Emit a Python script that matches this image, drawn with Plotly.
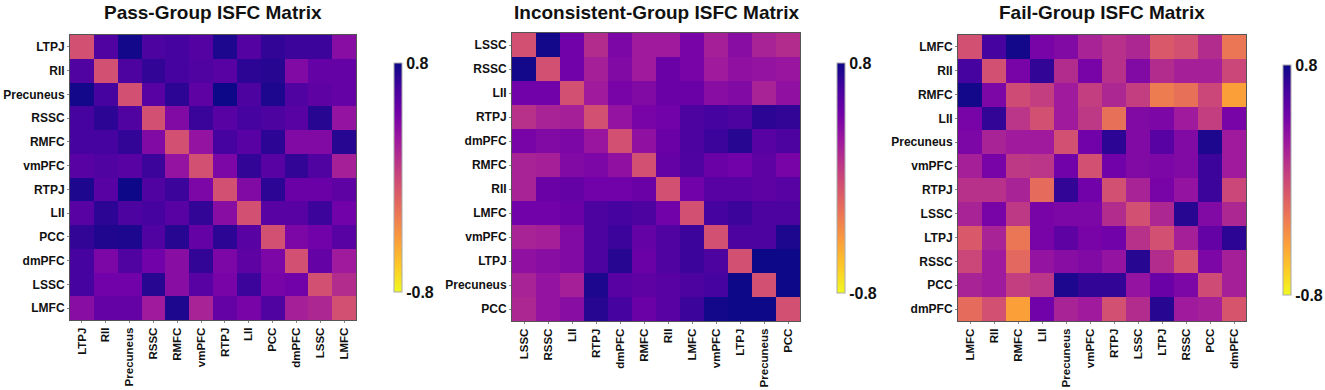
import plotly.graph_objects as go

# ---------------- data ----------------
pass_labels = ["LTPJ", "RII", "Precuneus", "RSSC", "RMFC", "vmPFC",
               "RTPJ", "LII", "PCC", "dmPFC", "LSSC", "LMFC"]
pass_values = [
    [-0.05, 0.58, 0.78, 0.60, 0.62, 0.56, 0.75, 0.56, 0.68, 0.65, 0.65, 0.35],
    [0.58, -0.05, 0.60, 0.68, 0.62, 0.58, 0.55, 0.70, 0.72, 0.38, 0.50, 0.50],
    [0.78, 0.62, -0.05, 0.55, 0.70, 0.52, 0.80, 0.60, 0.75, 0.58, 0.52, 0.50],
    [0.62, 0.70, 0.58, -0.05, 0.38, 0.66, 0.55, 0.62, 0.60, 0.55, 0.72, 0.30],
    [0.62, 0.62, 0.68, 0.38, -0.05, 0.30, 0.62, 0.55, 0.70, 0.38, 0.38, 0.72],
    [0.55, 0.58, 0.55, 0.65, 0.30, -0.05, 0.40, 0.68, 0.55, 0.68, 0.58, 0.22],
    [0.75, 0.55, 0.80, 0.58, 0.65, 0.40, -0.05, 0.38, 0.70, 0.48, 0.48, 0.52],
    [0.55, 0.70, 0.60, 0.62, 0.55, 0.68, 0.35, -0.05, 0.55, 0.55, 0.65, 0.45],
    [0.68, 0.74, 0.75, 0.58, 0.72, 0.50, 0.70, 0.55, -0.05, 0.40, 0.45, 0.55],
    [0.62, 0.40, 0.58, 0.45, 0.35, 0.68, 0.40, 0.52, 0.40, -0.05, 0.50, 0.25],
    [0.62, 0.45, 0.45, 0.72, 0.35, 0.55, 0.42, 0.65, 0.42, 0.45, -0.05, 0.15],
    [0.35, 0.50, 0.50, 0.25, 0.75, 0.20, 0.50, 0.42, 0.58, 0.22, 0.18, -0.05],
]

incons_labels = ["LSSC", "RSSC", "LII", "RTPJ", "dmPFC", "RMFC",
                 "RII", "LMFC", "vmPFC", "LTPJ", "Precuneus", "PCC"]
incons_values = [
    [-0.05, 0.78, 0.45, 0.15, 0.40, 0.25, 0.25, 0.42, 0.22, 0.35, 0.20, 0.15],
    [0.78, -0.05, 0.45, 0.22, 0.38, 0.25, 0.48, 0.42, 0.25, 0.32, 0.30, 0.28],
    [0.45, 0.45, -0.05, 0.25, 0.42, 0.38, 0.48, 0.48, 0.35, 0.38, 0.20, 0.32],
    [0.12, 0.20, 0.22, -0.05, 0.30, 0.42, 0.45, 0.60, 0.62, 0.60, 0.70, 0.68],
    [0.42, 0.38, 0.40, 0.28, -0.05, 0.32, 0.48, 0.60, 0.65, 0.72, 0.55, 0.60],
    [0.20, 0.22, 0.38, 0.40, 0.32, -0.05, 0.50, 0.58, 0.48, 0.45, 0.52, 0.42],
    [0.20, 0.48, 0.50, 0.45, 0.45, 0.48, -0.05, 0.45, 0.55, 0.55, 0.52, 0.55],
    [0.45, 0.45, 0.48, 0.60, 0.62, 0.60, 0.45, -0.05, 0.62, 0.65, 0.60, 0.60],
    [0.20, 0.22, 0.38, 0.60, 0.65, 0.50, 0.58, 0.65, -0.05, 0.60, 0.60, 0.75],
    [0.32, 0.35, 0.38, 0.60, 0.72, 0.48, 0.58, 0.65, 0.60, -0.05, 0.80, 0.80],
    [0.20, 0.30, 0.22, 0.75, 0.55, 0.52, 0.55, 0.60, 0.62, 0.80, -0.05, 0.80],
    [0.18, 0.30, 0.35, 0.72, 0.62, 0.48, 0.55, 0.65, 0.78, 0.80, 0.80, -0.05],
]

fail_labels = ["LMFC", "RII", "RMFC", "LII", "Precuneus", "vmPFC",
               "RTPJ", "LSSC", "LTPJ", "RSSC", "PCC", "dmPFC"]
fail_values = [
    [-0.05, 0.62, 0.78, 0.42, 0.38, 0.20, 0.12, 0.18, -0.10, -0.05, 0.15, -0.25],
    [0.62, -0.05, 0.42, 0.68, 0.15, 0.42, 0.12, 0.38, 0.15, 0.22, 0.22, 0.00],
    [0.78, 0.40, -0.02, 0.05, 0.25, 0.05, 0.18, 0.05, -0.28, -0.22, 0.00, -0.45],
    [0.42, 0.68, 0.10, -0.05, 0.25, 0.08, -0.22, 0.38, 0.40, 0.25, 0.05, 0.42],
    [0.40, 0.20, 0.25, 0.25, -0.05, 0.45, 0.70, 0.38, 0.55, 0.38, 0.75, 0.25],
    [0.22, 0.42, 0.08, 0.10, 0.45, -0.05, 0.45, 0.38, 0.40, 0.38, 0.65, 0.25],
    [0.12, 0.12, 0.20, -0.20, 0.68, 0.45, -0.05, 0.20, 0.42, 0.30, 0.65, 0.00],
    [0.20, 0.42, 0.08, 0.42, 0.40, 0.40, 0.15, -0.05, 0.18, 0.72, 0.38, 0.18],
    [-0.10, 0.20, -0.25, 0.42, 0.52, 0.42, 0.45, 0.12, -0.05, 0.22, 0.50, 0.70],
    [0.00, 0.25, -0.18, 0.30, 0.35, 0.38, 0.30, 0.72, 0.15, -0.08, 0.40, 0.22],
    [0.20, 0.25, 0.05, 0.10, 0.75, 0.68, 0.68, 0.30, 0.48, 0.40, -0.02, 0.22],
    [-0.20, -0.05, -0.45, 0.45, 0.20, 0.25, -0.05, 0.15, 0.72, 0.25, 0.22, -0.08],
]

titles = ["Pass-Group ISFC Matrix", "Inconsistent-Group ISFC Matrix", "Fail-Group ISFC Matrix"]
cbar_ticks = [-0.8, 0.8]
cbar_ticktext = ["-0.8", "0.8"]

# ---------------- layout geometry (pixels) ----------------
W, H = 1325, 390
panels = [
    dict(x0=70, x1=356, y0=35, y1=320, cbx=394, cby0=63, cby1=292),
    dict(x0=512, x1=800, y0=33, y1=321, cbx=837, cby0=63, cby1=293),
    dict(x0=958, x1=1246, y0=35, y1=321, cbx=1283, cby0=65, cby1=295),
]

FONT = "Liberation Sans, Arial, sans-serif"
fig = go.Figure()
datasets = [(pass_labels, pass_values), (incons_labels, incons_values), (fail_labels, fail_values)]

for i, ((labels, vals), p) in enumerate(zip(datasets, panels)):
    k = "" if i == 0 else str(i + 1)
    fig.add_trace(go.Heatmap(
        z=vals, x=labels, y=labels,
        xaxis="x" + k, yaxis="y" + k,
        colorscale="Plasma_r", zmin=-0.8, zmax=0.8,
        xgap=0, ygap=0,
        colorbar=dict(
            x=p["cbx"] / W, xanchor="left", xpad=0, ypad=0,
            y=1 - (p["cby0"] + p["cby1"]) / 2 / H, yanchor="middle",
            len=(p["cby1"] - p["cby0"]) / H, lenmode="fraction",
            thickness=8, outlinewidth=1, outlinecolor="#aaaaaa",
            tickvals=cbar_ticks, ticktext=cbar_ticktext,
            ticks="", ticklabelposition="outside",
            tickfont=dict(family=FONT, size=16, color="#111", weight="bold"),
        ),
        hovertemplate="%{y} – %{x}: %{z:.2f}<extra></extra>",
    ))
    axcommon = dict(
        showgrid=False, zeroline=False, showline=True, linecolor="#555", linewidth=1,
        mirror=True, ticks="outside", ticklen=2, tickcolor="#888",
        automargin=False,
    )
    fig.layout["xaxis" + k] = dict(
        domain=[p["x0"] / W, p["x1"] / W], anchor="y" + k,
        tickangle=-90,
        tickfont=dict(family=FONT, size=11.5, color="#111", weight="bold"),
        **axcommon)
    fig.layout["yaxis" + k] = dict(
        domain=[1 - p["y1"] / H, 1 - p["y0"] / H], anchor="x" + k,
        autorange="reversed",
        tickfont=dict(family=FONT, size=12, color="#111", weight="bold"),
        **axcommon)
    fig.add_annotation(
        text="<b>" + titles[i] + "</b>", xref="paper", yref="paper",
        x=(p["x0"] + p["x1"]) / 2 / W, y=1 - 13 / H,
        xanchor="center", yanchor="middle", showarrow=False,
        font=dict(family=FONT, size=19, color="#111"),
    )

fig.update_layout(
    width=W, height=H,
    margin=dict(l=0, r=0, t=0, b=0),
    paper_bgcolor="white", plot_bgcolor="white",
)

fig.write_html("out.html", config={"displayModeBar": False},
               post_script="document.body.style.margin='0px';")
